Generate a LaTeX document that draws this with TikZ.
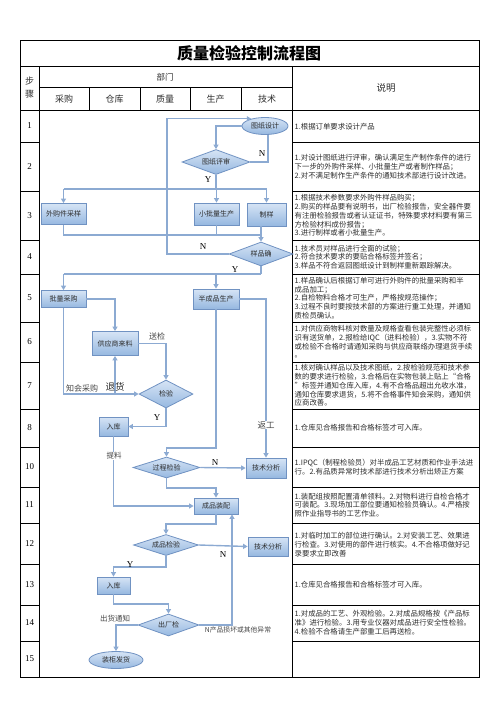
\documentclass[tikz,border=0pt]{standalone}
\usepackage{fontspec}
\setmainfont{Noto Sans CJK SC}
\newfontfamily\serifnum{Liberation Serif}
\usetikzlibrary{shapes.geometric,arrows.meta}
\definecolor{linec}{RGB}{140,170,210}
\definecolor{boxtop}{RGB}{214,228,245}
\definecolor{boxbot}{RGB}{150,184,224}
\definecolor{boxline}{RGB}{112,146,194}
\definecolor{txt}{RGB}{45,45,45}
\definecolor{lblc}{RGB}{70,70,70}
\tikzset{
  tbl/.style={line width=0.9pt, black},
  flow/.style={draw=linec, line width=1.4pt},
  arr/.style={flow, -{Triangle[length=4.5pt,width=5pt]}},
  fshape/.style={draw=boxline, line width=0.8pt, top color=boxtop, bottom color=boxbot, font=\fontsize{7}{8}\selectfont, text=txt, inner sep=0pt},
  fbox/.style={fshape, rectangle},
  fdia/.style={fshape, diamond, shape aspect=2},
  fell/.style={fshape, ellipse},
  lbl/.style={font=\fontsize{7.5}{8}\selectfont, text=lblc, inner sep=0.6pt},
  yn/.style={font=\serifnum\fontsize{9}{9}\selectfont, text=black, inner sep=0pt},
  desc/.style={anchor=west, align=left, font=\fontsize{7.4}{8.7}\selectfont, inner sep=0pt, text=txt},
  stepnum/.style={font=\serifnum\fontsize{9}{10}\selectfont, text=black},
  head/.style={font=\fontsize{9}{10}\selectfont, text=txt},
}
\begin{document}
\begin{tikzpicture}[x=1pt,y=-1pt]
\useasboundingbox (0,0) rectangle (496,702);
% ---------- table ----------
\draw[tbl] (20,40) rectangle (479,677);
\draw[tbl] (20,66) -- (479,66);
\draw[tbl] (39,66) -- (39,677);
\draw[tbl] (292.5,66) -- (292.5,677);
\draw[tbl] (39,87) -- (292.5,87);
\foreach \x in {89,140,190,241} \draw[tbl] (\x,87) -- (\x,110);
\draw[tbl] (20,110) -- (479,110);
\foreach \y in {142,191,240,274,322,362,409,447,487,523,564,605,641} {
  \draw[tbl] (20,\y) -- (39,\y);
  \draw[tbl] (292.5,\y) -- (479,\y);
}
\node[font=\fontsize{16}{18}\selectfont\bfseries] (title) at (249,53.5) {质量检验控制流程图};
\node[head, align=center, font=\fontsize{9}{13}\selectfont] (hstep) at (29.5,88) {步\\骤};
\node[head, font=\fontsize{8.5}{10}\selectfont] (hdept) at (165,77.5) {部门};
\node[head] (hbuy) at (64,99) {采购};
\node[head] (hstore) at (114.5,99) {仓库};
\node[head] (hqual) at (165,99) {质量};
\node[head] (hprod) at (215.5,99) {生产};
\node[head] (htech) at (267,99) {技术};
\node[head, font=\fontsize{9.5}{10}\selectfont] (hnote) at (386,88) {说明};
% step numbers
\foreach \n/\y in {1/126,2/166.5,3/215.5,4/257,5/298,6/342,7/385.5,8/428,10/467,11/505,12/543.5,13/584.5,14/623,15/659}
  \node[stepnum] (s\n) at (29.5,\y) {\n};
% ---------- descriptions ----------
\node[desc] (d1) at (294.5,126.5) {1.根据订单要求设计产品};
\node[desc] (d2) at (294.5,166.5) {1.对设计图纸进行评审，确认满足生产制作条件的进行\\下一步的外购件采样、小批量生产或者制作样品；\\2.对不满足制作生产条件的通知技术部进行设计改进。};
\node[desc] (d3) at (294.5,215.5) {1.根据技术参数要求外购件样品购买；\\2.购买的样品要有说明书，出厂检验报告，安全器件要\\有注册检验报告或者认证证书，特殊要求材料要有第三\\方检验材料成份报告；\\3.进行制样或者小批量生产。};
\node[desc] (d4) at (294.5,257) {1.技术员对样品进行全面的试验；\\2.符合技术要求的要贴合格标签并签名；\\3.样品不符合返回图纸设计到制样重新跟踪解决。};
\node[desc] (d5) at (294.5,298) {1.样品确认后根据订单可进行外购件的批量采购和半\\成品加工；\\2.自检物料合格才可生产，严格按规范操作；\\3.过程不良时要按技术部的方案进行重工处理，并通知\\质检员确认。};
\node[desc] (d6) at (294.5,342) {1.对供应商物料核对数量及规格查看包装完整性必须标\\识有送货单，2.报检给IQC（进料检验），3.实物不符\\或检验不合格时请通知采购与供应商联络办理退货手续\\。};
\node[desc] (d7) at (294.5,385.5) {1.核对确认样品以及技术图纸，2.按检验规范和技术参\\数的要求进行检验，3.合格后在实物包装上贴上“合格\\”标签并通知仓库入库，4.有不合格品超出允收水准，\\通知仓库要求退货，5.将不合格事件知会采购，通知供\\应商改善。};
\node[desc] (d8) at (294.5,428) {1.仓库见合格报告和合格标签才可入库。};
\node[desc] (d10) at (294.5,467) {1.IPQC（制程检验员）对半成品工艺材质和作业手法进\\行。2.有品质异常时技术部进行技术分析出矫正方案};
\node[desc] (d11) at (294.5,505) {1.装配组按照配置清单领料。2.对物料进行自检合格才\\可装配。3.现场加工部位要通知检验员确认。4.严格按\\照作业指导书的工艺作业。};
\node[desc] (d12) at (294.5,544.5) {1.对临时加工的部位进行确认。2.对安装工艺、效果进\\行检查。3.对使用的部件进行核实。4.不合格项做好记\\录要求立即改善};
\node[desc] (d13) at (294.5,584.5) {1.仓库见合格报告和合格标签才可入库。};
\node[desc] (d14) at (294.5,622.5) {1.对成品的工艺、外观检验。2.对成品规格按《产品标\\准》进行检验。3.用专业仪器对成品进行安全性检验。\\4.检验不合格请生产部重工后再送检。};
% ---------- flow nodes ----------
\node[fell, minimum width=46pt, minimum height=17pt] (design) at (265,126) {图纸设计};
\node[fdia, minimum width=68pt, minimum height=25pt] (review) at (216,162) {图纸评审};
\node[fbox, minimum width=45pt, minimum height=21pt] (buysample) at (63.5,214) {外购件采样};
\node[fbox, minimum width=45pt, minimum height=22pt] (smallbatch) at (216.5,214) {小批量生产};
\node[fbox, minimum width=39pt, minimum height=23pt] (sample) at (266.5,214.5) {制样};
\node[fdia, minimum width=64pt, minimum height=24pt] (confirm) at (261,254) {样品确};
\node[fbox, minimum width=45pt, minimum height=17pt] (batchbuy) at (63.5,299) {批量采购};
\node[fbox, minimum width=46pt, minimum height=20pt] (semi) at (216,299) {半成品生产};
\node[fbox, minimum width=46pt, minimum height=24pt] (supplier) at (115,343.5) {供应商来料};
\node[fdia, minimum width=54pt, minimum height=28pt] (inspect) at (166,394) {检验};
\node[fbox, minimum width=29pt, minimum height=19pt] (store1) at (113.5,426.5) {入库};
\node[fdia, minimum width=67pt, minimum height=21pt] (process) at (166.5,467.5) {过程检验};
\node[fbox, minimum width=40pt, minimum height=20pt] (tech1) at (266,468) {技术分析};
\node[fbox, minimum width=44pt, minimum height=16pt] (assemble) at (216,506) {成品装配};
\node[fdia, minimum width=65pt, minimum height=21pt] (final) at (166,545) {成品检验};
\node[fbox, minimum width=40pt, minimum height=19pt] (tech2) at (268,546.5) {技术分析};
\node[fbox, minimum width=33pt, minimum height=17pt] (store2) at (113.5,585.5) {入库};
\node[fdia, minimum width=61pt, minimum height=22pt] (out) at (168.5,625) {出厂检};
\node[fell, minimum width=54pt, minimum height=17pt] (ship) at (116,660) {装柜发货};
% ---------- helper coordinates ----------
\coordinate (loopx) at (167,0);
\coordinate (x268) at (268,0);
\coordinate (y3) at (0,189);
\coordinate (y4) at (0,235);
\coordinate (y5) at (0,274);
\coordinate (y8) at (0,448);
\coordinate (y10) at (0,488);
\coordinate (y11) at (0,524);
\coordinate (y12) at (0,567);
\coordinate (y13) at (0,604);
\coordinate (x232) at (232,0);
% ---------- connectors ----------
\draw[arr] (design.west) -| (review.north);
\draw[flow] (review.east) -| (x268 |- design.south);
\draw[flow] (review.south) -- (review.south |- y3);
\draw[flow] (buysample.north |- y3) -- (sample.north |- y3);
\draw[arr] (buysample.north |- y3) -- (buysample.north);
\draw[arr] (smallbatch.north |- y3) -- (smallbatch.north);
\draw[arr] (sample.north |- y3) -- (sample.north);
\draw[flow] (buysample.south) |- (confirm.north |- y4);
\draw[flow] (smallbatch.south) -- (smallbatch.south |- y4);
\draw[arr] (confirm.north |- sample.south) -- (confirm.north);
\draw[arr] (confirm.west) -- (confirm.west -| loopx) |- (design.152);
\draw[flow] (confirm.south) -- (confirm.south |- y5);
\draw[flow] (batchbuy.north |- y5) -- (confirm.south |- y5);
\draw[arr] (batchbuy.north |- y5) -- (batchbuy.north);
\draw[arr] (semi.north |- y5) -- (semi.north);
\draw[arr] (batchbuy.east) -| (supplier.north);
\draw[arr] (supplier.east) -| (inspect.north);
\draw[arr] (batchbuy.south) |- (inspect.west);
\draw[arr] (supplier.south |- inspect.west) -- (supplier.south);
\draw[arr] (semi.east) -| (tech1.north);
\draw[arr] (semi.south) -- (semi.south |- y8) -| (process.north);
\draw[arr] (inspect.south) |- (store1.east);
\draw[arr] (store1.south) |- (assemble.west);
\draw[arr] (process.east) -- (tech1.west);
\draw[arr] (process.south) -- (process.south |- y10) -| (assemble.north);
\draw[arr] (assemble.south) -- (assemble.south |- y11) -| (final.north);
\draw[arr] (out.east) -| (x232 |- assemble.south);
\draw[arr] (final.east) -- (tech2.west);
\draw[arr] (final.south) -- (final.south |- y12) -| (store2.north);
\draw[arr] (store2.south) -- (store2.south |- y13) -| (out.north);
\draw[arr] (out.west) -| (ship.north);
% ---------- labels ----------
\node[yn] (lN1) at (262,154) {N};
\node[yn] (lY1) at (208,180) {Y};
\node[yn] (lN2) at (203,247) {N};
\node[yn] (lY2) at (235,270) {Y};
\node[lbl, font=\fontsize{8}{9}\selectfont] (lsend) at (157,336) {送检};
\node[lbl, font=\fontsize{8}{9}\selectfont] (lnotify) at (82,388.5) {知会采购};
\node[lbl, font=\fontsize{9.5}{10}\selectfont, text=txt] (lreturn) at (115,387) {退货};
\node[yn] (lY3) at (157,418) {Y};
\node[lbl, font=\fontsize{8.5}{9}\selectfont, fill=white] (lrework) at (266,425) {返工};
\node[lbl, fill=white] (lpick) at (114,456) {提料};
\node[yn] (lN3) at (215,463) {N};
\node[yn] (lN4) at (223,555) {N};
\node[yn] (lY4) at (130,564.5) {Y};
\node[lbl] (lship) at (115,619) {出货通知};
\node[lbl, font=\fontsize{6.8}{7}\selectfont] (lbad) at (238,630) {N产品损坏或其他异常};
\end{tikzpicture}
\end{document}
